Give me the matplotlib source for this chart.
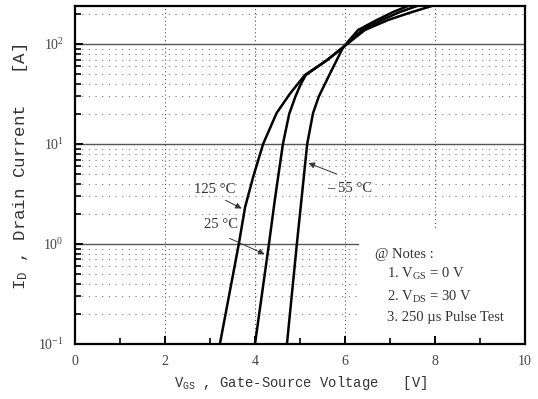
import numpy as np
import matplotlib.pyplot as plt
from matplotlib.patches import Rectangle
from matplotlib.ticker import FixedLocator, LogLocator, NullFormatter

plt.rcParams['font.family'] = 'Liberation Serif'
plt.rcParams['mathtext.fontset'] = 'custom'
plt.rcParams['mathtext.rm'] = 'Liberation Serif'
plt.rcParams['mathtext.tt'] = 'Liberation Mono'

# Transfer characteristics, I_D vs V_GS at three junction temperatures
vgs_125 = [3.22, 3.64, 3.78, 3.96, 4.18, 4.48, 4.78, 5.11, 5.60, 5.96, 6.44, 6.96, 7.49, 7.93]
id_125 = [0.1, 1.0, 2.34, 4.7, 10, 20.4, 32, 49, 69, 93, 138, 174, 209, 240]

vgs_25 = [4.00, 4.31, 4.44, 4.62, 4.76, 4.90, 5.02, 5.13, 5.60, 5.96, 6.38, 6.82, 7.22, 7.60]
id_25 = [0.1, 1.0, 2.75, 10, 20, 30, 40, 49, 69, 93, 138, 174, 209, 240]

vgs_m55 = [4.71, 4.93, 5.04, 5.16, 5.29, 5.42, 5.67, 5.96, 6.29, 6.71, 7.07, 7.40]
id_m55 = [0.1, 1.0, 3.0, 10, 20.4, 30, 51, 93, 138, 174, 209, 240]

notes = ["@ Notes :",
         r"1. V$_{\rm GS}$ = 0 V",
         r"2. V$_{\rm DS}$ = 30 V",
         "3. 250 µs Pulse Test"]

txt = '#333333'
fig = plt.figure(figsize=(5.38, 3.99), dpi=100)
ax = fig.add_axes([75/538, 1-344/399, 450/538, 338/399])
ax.set_yscale('log')
ax.set_xlim(0, 10)
ax.set_ylim(0.1, 240)

# grid: solid decades, dotted minors and verticals
for d in [1, 10, 100]:
    ax.axhline(d, color='#555555', lw=1.0, zorder=0.6)
for d in [0.1, 1, 10, 100]:
    for k in range(2, 10):
        if d*k < 240:
            ax.axhline(d*k, color='#777777', lw=0.8, ls=(0, (1, 5)), zorder=0.6)
for v in [2, 4, 6, 8]:
    ax.axvline(v, color='#555555', lw=0.8, ls=(0, (1, 2.5)), zorder=0.6)

# blank area behind the notes
ax.add_patch(Rectangle((6.31, 0.1), 3.69, 1.28, facecolor='white',
                       edgecolor='none', zorder=1))

for x, y in [(vgs_125, id_125), (vgs_25, id_25), (vgs_m55, id_m55)]:
    ax.plot(x, y, color='black', lw=1.8, zorder=3, solid_joinstyle='round')

arrow = dict(arrowstyle='-|>', color='#333333', lw=0.7, mutation_scale=9)
ax.text(3.11, 3.47, "125 °C", ha='center', va='center', fontsize=10.5, color=txt, zorder=4)
ax.annotate("", xy=(3.76, 2.2), xytext=(3.29, 2.82), arrowprops=arrow, zorder=4)
ax.text(3.24, 1.55, "25 °C", ha='center', va='center', fontsize=10.5, color=txt, zorder=4)
ax.annotate("", xy=(4.27, 0.77), xytext=(3.38, 1.17), arrowprops=arrow, zorder=4)
ax.text(6.11, 3.55, "– 55 °C", ha='center', va='center', fontsize=10.5, color=txt, zorder=4)
ax.annotate("", xy=(5.13, 6.6), xytext=(5.87, 4.9), arrowprops=arrow, zorder=4)

ax.text(6.67, 0.78, notes[0], fontsize=10.5, color=txt, va='center', zorder=4)
for yy, s in zip([0.50, 0.295, 0.182], notes[1:]):
    ax.text(6.93, yy, s, fontsize=10.5, color=txt, va='center', zorder=4)

for s in ax.spines.values():
    s.set_linewidth(1.6)
ax.xaxis.set_major_locator(FixedLocator([0, 2, 4, 6, 8, 10]))
ax.xaxis.set_minor_locator(FixedLocator([1, 3, 5, 7, 9]))
ax.yaxis.set_minor_locator(LogLocator(base=10, subs=np.arange(2, 10)))
ax.yaxis.set_minor_formatter(NullFormatter())
ax.tick_params(which='major', direction='in', length=6, width=1.4,
               labelsize=10, labelcolor='#444444', pad=8, top=False, right=False)
ax.tick_params(which='minor', direction='in', length=4, width=1.2, top=False, right=False)

ax.set_xlabel(r"$\mathtt{V_{GS}}$ , Gate-Source Voltage   [V]",
              family='Liberation Mono', fontsize=10, color=txt, labelpad=4)
ax.set_ylabel(r"$\mathtt{I_{D}}$ , Drain Current   [A]",
              family='Liberation Mono', fontsize=12.5, color=txt)
ax.yaxis.label.set_va('center')
ax.yaxis.set_label_coords(-0.12, 0.525)

fig.savefig('out.png', dpi=100)
